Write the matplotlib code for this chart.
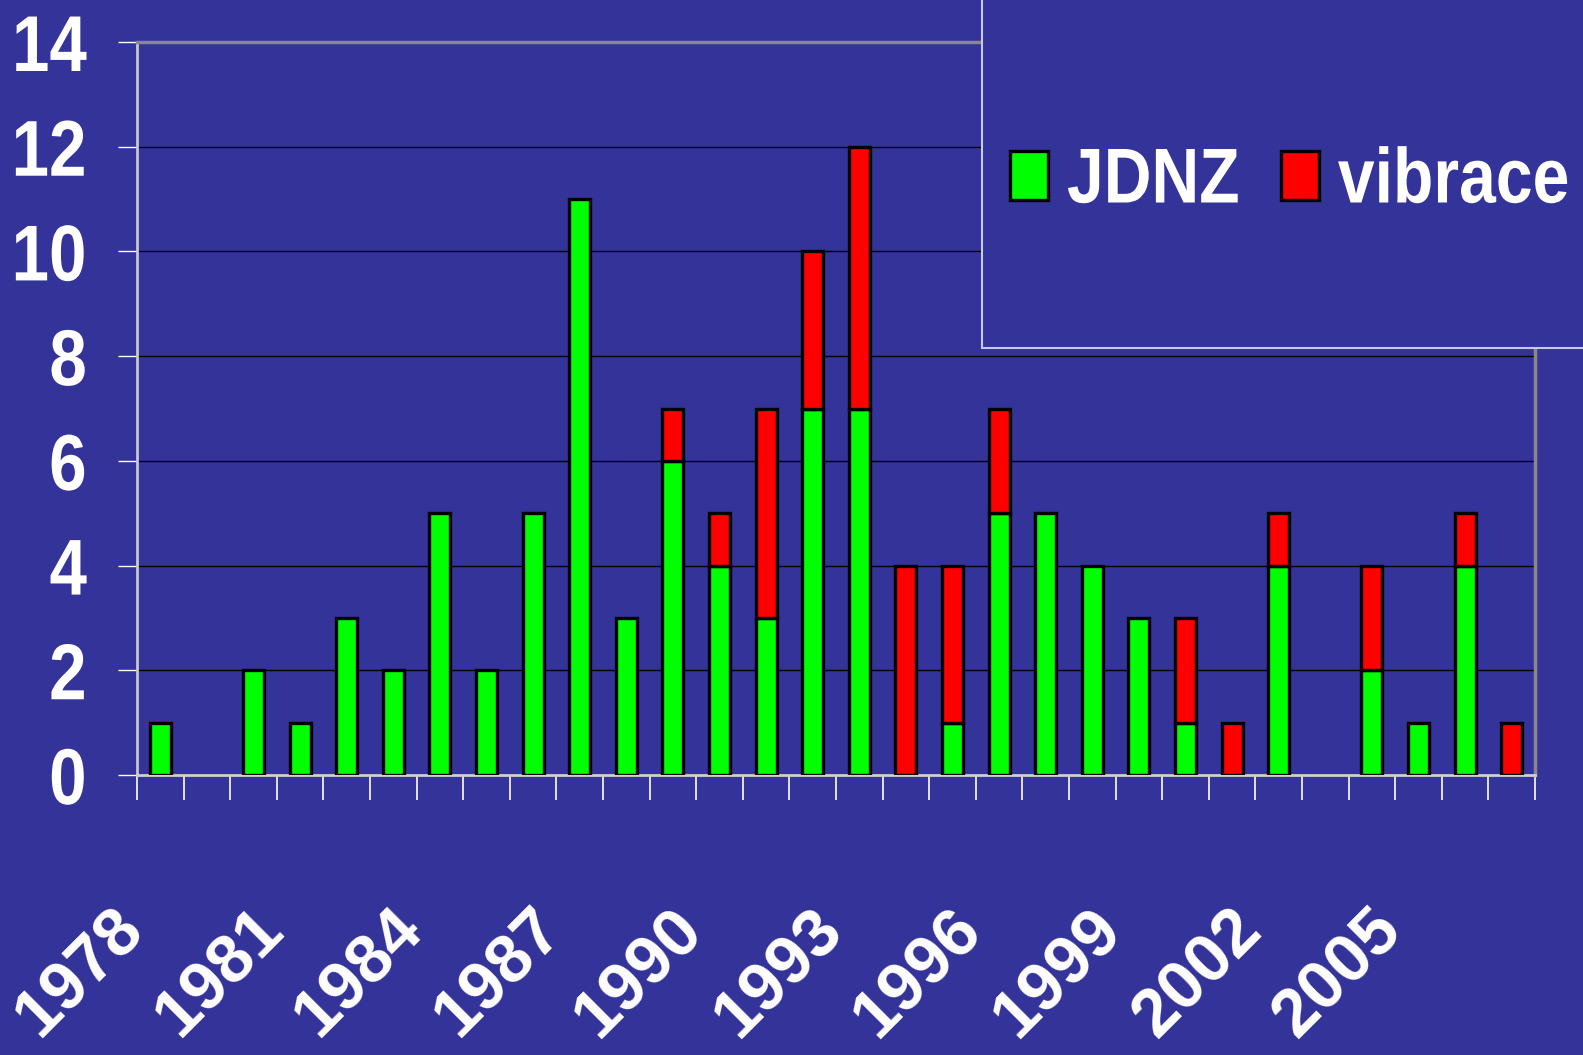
import matplotlib
matplotlib.use("Agg")
import matplotlib.pyplot as plt
from matplotlib.patches import Rectangle
from matplotlib.patheffects import AbstractPathEffect
from matplotlib.transforms import ScaledTranslation, Affine2D
import numpy as np

years = list(range(1978, 2008))
jdnz = [1, 0, 2, 1, 3, 2, 5, 2, 5, 11, 3, 6, 4, 3, 7, 7, 0, 1, 5, 5, 4, 3, 1, 0, 4, 0, 2, 1, 4, 0]
vibrace = [0, 0, 0, 0, 0, 0, 0, 0, 0, 0, 0, 1, 1, 4, 3, 5, 4, 3, 2, 0, 0, 0, 2, 1, 1, 0, 2, 0, 1, 1]
yticks = [0, 2, 4, 6, 8, 10, 12, 14]
label_years = years[::3]


class Squeeze(AbstractPathEffect):
    # narrow the glyphs (reference uses a condensed-looking Arial)
    def __init__(self, sx=0.85, anchor='right'):
        super().__init__()
        self.sx = sx
        self.anchor = anchor

    def draw_path(self, renderer, gc, tpath, affine, rgbFace=None):
        ext = tpath.get_extents()
        a = ext.x1 if self.anchor == 'right' else ext.x0
        t = Affine2D().translate(-a, 0).scale(self.sx, 1).translate(a, 0) + affine
        renderer.draw_path(gc, tpath, t, rgbFace)


plt.rcParams['font.family'] = ['Liberation Sans', 'DejaVu Sans']
plt.rcParams['font.weight'] = 'bold'

bg = '#333399'
fig = plt.figure(figsize=(15.83, 10.55), dpi=100, facecolor=bg)
ax = fig.add_axes([137 / 1583, 1 - 775 / 1055, (1535 - 137) / 1583, (775 - 42) / 1055])
ax.set_facecolor(bg)

x = np.arange(len(years))
j = np.array(jdnz)
v = np.array(vibrace)
mj = j > 0
mv = v > 0
g = ax.bar(x[mj], j[mj], width=0.45, color='#00ff00', edgecolor='black', linewidth=2.4, zorder=3)
r = ax.bar(x[mv], v[mv], bottom=j[mv], width=0.45, color='#ff0000', edgecolor='black', linewidth=2.4, zorder=3)

ax.set_xlim(-0.5, len(years) - 0.5)
ax.set_ylim(0, 14)
ax.set_yticks(yticks)
ax.yaxis.grid(True, color='black', linewidth=1.0, zorder=0)
ax.set_axisbelow(True)

ax.spines['top'].set_color('#888888')
ax.spines['top'].set_linewidth(2.5)
ax.spines['right'].set_color('#888888')
ax.spines['right'].set_linewidth(2.5)
ax.spines['left'].set_color('#c8c8c8')
ax.spines['left'].set_linewidth(2)
ax.spines['bottom'].set_color('#d0d0d0')
ax.spines['bottom'].set_linewidth(2)

ax.tick_params(axis='y', colors='white', length=14, width=1, pad=22, labelsize=57)
for lab in ax.get_yticklabels():
    lab.set_path_effects([Squeeze(0.85, 'right')])

ax.set_xticks(x[::3])
ax.set_xticklabels(label_years)
ax.set_xticks(np.arange(len(years) + 1) - 0.5, minor=True)
ax.tick_params(axis='x', which='minor', colors='white', length=18, width=1.2)
ax.tick_params(axis='x', which='major', length=0, pad=104, labelsize=49, labelcolor='white')
off = ScaledTranslation(-0.27, 0, fig.dpi_scale_trans)
for lab in ax.get_xticklabels():
    lab.set_rotation(45)
    lab.set_ha('right')
    lab.set_va('center')
    lab.set_rotation_mode('anchor')
    lab.set_transform(lab.get_transform() + off)

# legend box (runs off the top and right of the figure, as in the reference)
fig.patches.append(Rectangle((982 / 1583, 1 - 348 / 1055), 0.5, 0.5, transform=fig.transFigure,
                             facecolor=bg, edgecolor='#c8c8ee', linewidth=1.5, zorder=5))
for h, name, x0 in [(g, 'JDNZ', 1010), (r, 'vibrace', 1281)]:
    leg = fig.legend([h], [name], loc='center left', bbox_to_anchor=(x0 / 1583, 1 - 182 / 1055),
                     frameon=False, fontsize=56, handlelength=0.49, handleheight=0.59,
                     handletextpad=0.24, borderaxespad=0, borderpad=0)
    leg.set_zorder(6)
    for t in leg.get_texts():
        t.set_color('white')
        t.set_path_effects([Squeeze(0.85, 'left')])

fig.savefig('out.png', dpi=100, facecolor=bg)
